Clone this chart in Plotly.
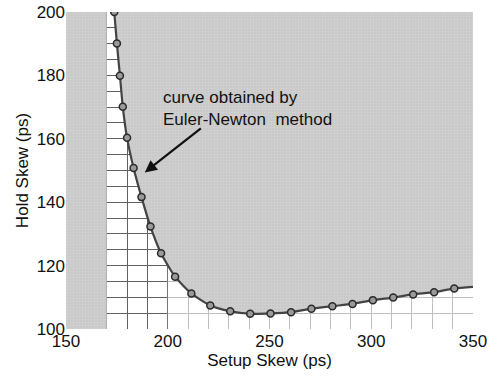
import plotly.graph_objects as go

# Data
curve_x = [173.7, 175.0, 176.5, 177.9, 180.0, 183.2, 187.1, 191.5, 196.7, 203.6, 211.6,
           220.9, 230.7, 240.5, 250.5, 260.6, 270.6, 280.9, 290.8, 300.8, 310.8, 320.6,
           330.9, 340.8]
curve_y = [200.0, 190.1, 179.9, 170.1, 160.3, 150.8, 141.6, 132.3, 123.9, 116.5, 111.2,
           107.4, 105.6, 104.8, 104.9, 105.3, 106.4, 107.2, 107.9, 109.1, 109.9, 110.9,
           111.6, 112.8]
curve_end_x = 350.0
curve_end_y = 113.3
left_bound_x = 170.0          # left infeasible strip boundary
x_range = [150, 350]
y_range = [100, 200]
x_ticks = [150, 200, 250, 300, 350]
y_ticks = [100, 120, 140, 160, 180, 200]
label_text = "curve obtained by<br>Euler-Newton  method"

FONT = "Liberation Sans, Arial, Helvetica, sans-serif"
line_x = curve_x + [curve_end_x]
line_y = curve_y + [curve_end_y]

fig = go.Figure()

# lighten grid on the right portion of feasible region
fig.add_trace(go.Scatter(
    x=[200, x_range[1], x_range[1], 200, 200],
    y=[y_range[0], y_range[0], y_range[1], y_range[1], y_range[0]],
    fill="toself", fillcolor="rgba(255,255,255,0.6)", mode="lines",
    line=dict(width=0), hoverinfo="skip", showlegend=False))

pattern = dict(shape="+", bgcolor="#c9c9c9", fgcolor="#dedede", size=3, solidity=0.3)

# left infeasible strip
fig.add_trace(go.Scatter(
    x=[x_range[0], left_bound_x, left_bound_x, x_range[0], x_range[0]],
    y=[y_range[0], y_range[0], y_range[1], y_range[1], y_range[0]],
    fill="toself", fillcolor="#cbcbcb", fillpattern=pattern, mode="lines",
    line=dict(width=0), hoverinfo="skip", showlegend=False))

# region above the curve
fig.add_trace(go.Scatter(
    x=line_x + [x_range[1], line_x[0]],
    y=line_y + [y_range[1], y_range[1]],
    fill="toself", fillcolor="#cbcbcb", fillpattern=pattern, mode="lines",
    line=dict(width=0), hoverinfo="skip", showlegend=False))

# the curve
fig.add_trace(go.Scatter(
    x=line_x, y=line_y, mode="lines",
    line=dict(color="#444444", width=2.2, shape="spline", smoothing=0.6),
    hoverinfo="skip", showlegend=False))
fig.add_trace(go.Scatter(
    x=curve_x, y=curve_y, mode="markers",
    marker=dict(size=7, color="#9a9a9a", line=dict(color="#2a2a2a", width=1.5)),
    showlegend=False))

fig.add_annotation(x=196.5, y=169.5, xref="x", yref="y", text=label_text,
                   showarrow=False, xanchor="left", yanchor="middle", align="left",
                   font=dict(family=FONT, size=17, color="#111111"))
fig.add_annotation(x=188.7, y=149.4, ax=217.0, ay=163.7, xref="x", yref="y",
                   axref="x", ayref="y", text="", showarrow=True,
                   arrowhead=2, arrowsize=1.1, arrowwidth=2.2, arrowcolor="#111111")

grid_col = "#606060"
fig.update_xaxes(range=[x_range[0] - 0.01, x_range[1] + 0.01], tickvals=x_ticks,
                 showgrid=True, gridcolor=grid_col, gridwidth=1,
                 minor=dict(dtick=10, showgrid=True, gridcolor=grid_col, gridwidth=1),
                 zeroline=False, showline=False, ticks="", ticklabeloverflow="allow",
                 automargin=False,
                 tickfont=dict(family=FONT, size=17, color="#111111"),
                 title=dict(text="Setup Skew (ps)", standoff=0,
                            font=dict(family=FONT, size=17, color="#111111")))
fig.update_yaxes(range=[y_range[0] - 0.01, y_range[1] + 0.01], tickvals=y_ticks,
                 showgrid=True, gridcolor=grid_col, gridwidth=1,
                 minor=dict(dtick=5, showgrid=True, gridcolor=grid_col, gridwidth=1),
                 zeroline=False, showline=False, ticks="", ticklabeloverflow="allow",
                 automargin=False,
                 tickfont=dict(family=FONT, size=17, color="#111111"),
                 title=dict(text="Hold Skew (ps)", standoff=3,
                            font=dict(family=FONT, size=17, color="#111111")))

fig.update_layout(width=487, height=377, margin=dict(l=66, r=14, t=12, b=48),
                  paper_bgcolor="white", plot_bgcolor="white", showlegend=False,
                  font=dict(family=FONT))

fig.write_html("out.html")
